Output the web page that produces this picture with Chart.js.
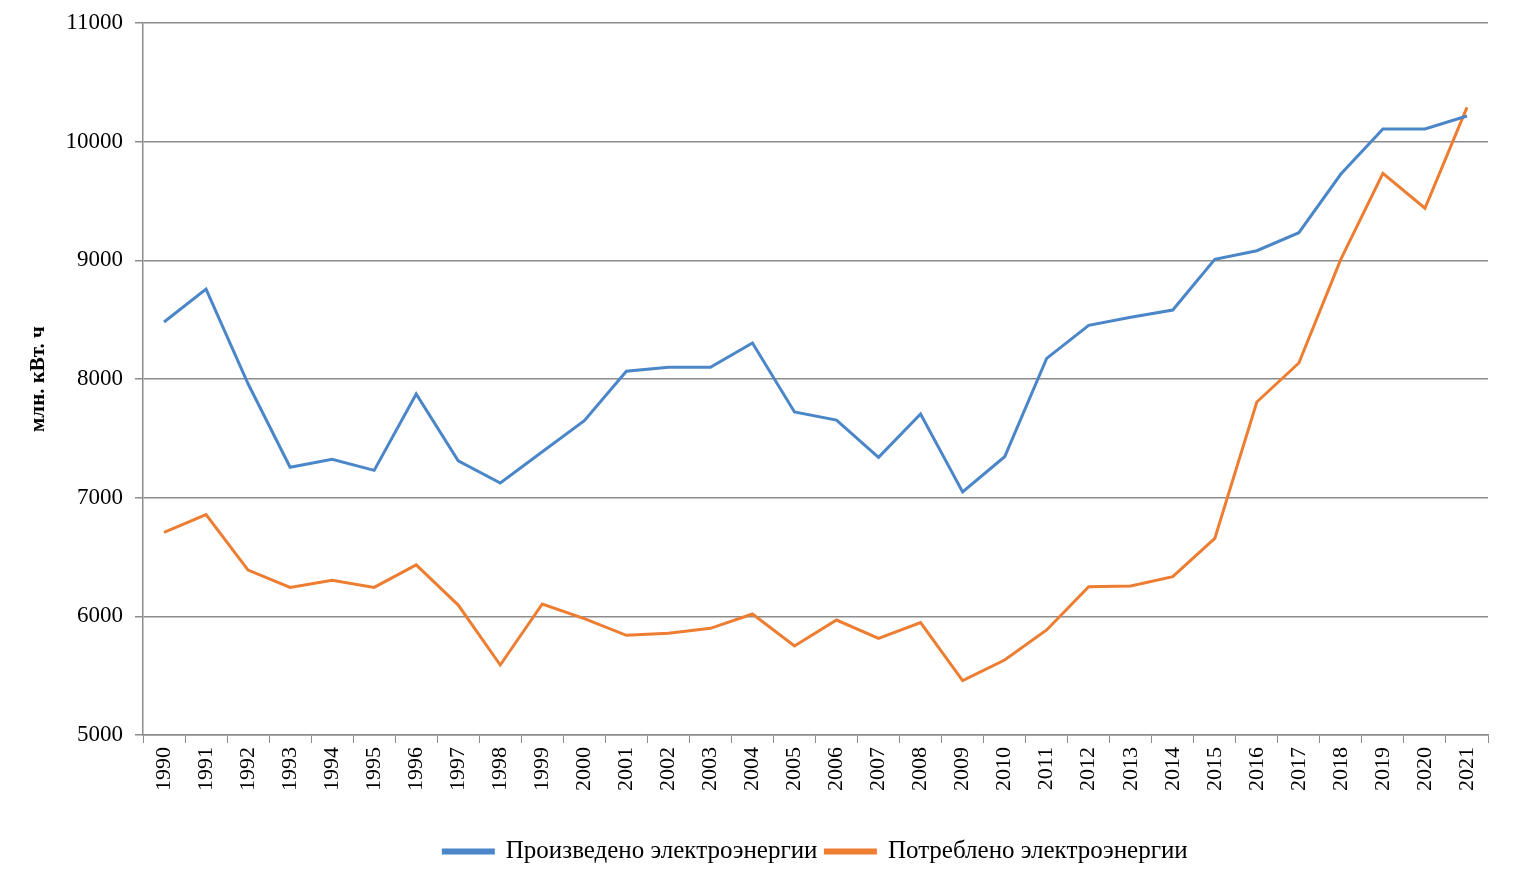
<!DOCTYPE html>
<html>
<head>
<meta charset="utf-8">
<script src="https://cdn.jsdelivr.net/npm/chart.js@4"></script>
<style>
  html, body { margin: 0; padding: 0; background: #fff; }
  #wrap { width: 1517px; height: 886px; }
</style>
</head>
<body>
<div id="wrap"><canvas id="myChart"></canvas></div>
<script>
const years = ['1990','1991','1992','1993','1994','1995','1996','1997','1998','1999','2000',
  '2001','2002','2003','2004','2005','2006','2007','2008','2009','2010',
  '2011','2012','2013','2014','2015','2016','2017','2018','2019','2020','2021'];

const produced = [8480, 8758, 7960, 7256, 7323, 7230, 7874, 7311, 7124, 7387, 7649,
  8065, 8099, 8099, 8303, 7722, 7654, 7340, 7705, 7048, 7345,
  8174, 8452, 8520, 8581, 9009, 9081, 9233, 9727, 10107, 10107, 10216];

const consumed = [6708, 6857, 6390, 6244, 6303, 6244, 6433, 6095, 5590, 6104, 5980,
  5840, 5857, 5899, 6020, 5750, 5969, 5815, 5947, 5458, 5632,
  5885, 6250, 6256, 6334, 6657, 7806, 8135, 9010, 9733, 9439, 10289];

const yTicks = [5000, 6000, 7000, 8000, 9000, 10000, 11000];

const serif = '"Liberation Serif", "Times New Roman", serif';
const gridColor = '#8c8c8c';

const chart_obj = document.getElementById('myChart');

new Chart(chart_obj, {
  type: 'line',
  data: {
    labels: years,
    datasets: [{
      label: 'Произведено электроэнергии',
      data: produced,
      borderColor: '#4a86c8',
      backgroundColor: '#4a86c8',
      borderWidth: 3,
      pointRadius: 0,
      tension: 0
    }, {
      label: 'Потреблено электроэнергии',
      data: consumed,
      borderColor: '#ed7d31',
      backgroundColor: '#ed7d31',
      borderWidth: 3,
      pointRadius: 0,
      tension: 0
    }]
  },
  options: {
    responsive: true,
    maintainAspectRatio: false,
    animation: false,
    layout: { padding: { top: 23, right: 29, left: 10, bottom: 12 } },
    plugins: {
      legend: {
        position: 'bottom',
        fullSize: false,
        labels: {
          font: { family: serif, size: 25 },
          color: '#000',
          boxWidth: 50,
          boxHeight: 3,
          padding: 8
        }
      },
      tooltip: { enabled: false }
    },
    scales: {
      x: {
        offset: true,
        grid: {
          offset: true,
          drawOnChartArea: false,
          color: gridColor,
          tickLength: 8
        },
        border: { color: gridColor, width: 1.5 },
        ticks: {
          font: { family: serif, size: 22 },
          color: '#000',
          minRotation: 90,
          maxRotation: 90,
          autoSkip: false,
          padding: 4
        },
        afterFit: function(scale) { scale.height = 96; }
      },
      y: {
        min: 5000,
        max: 11000,
        afterBuildTicks: function(scale) {
          scale.ticks = yTicks.map(function(v) { return { value: v }; });
        },
        grid: {
          color: gridColor,
          lineWidth: 1.5,
          tickLength: 8
        },
        border: { color: gridColor, width: 1.5 },
        ticks: {
          font: { family: serif, size: 23 },
          color: '#000',
          padding: 12,
          callback: function(value) { return String(value); }
        },
        title: {
          display: true,
          text: 'млн. кВт. ч',
          font: { family: serif, size: 21, weight: 'bold' },
          color: '#000',
          padding: { top: 16, bottom: 0 }
        },
        afterFit: function(scale) {
          scale.width = 133;
          scale.paddingTop = 0;
          scale.paddingBottom = 0;
        }
      }
    }
  }
});
</script>
</body>
</html>
